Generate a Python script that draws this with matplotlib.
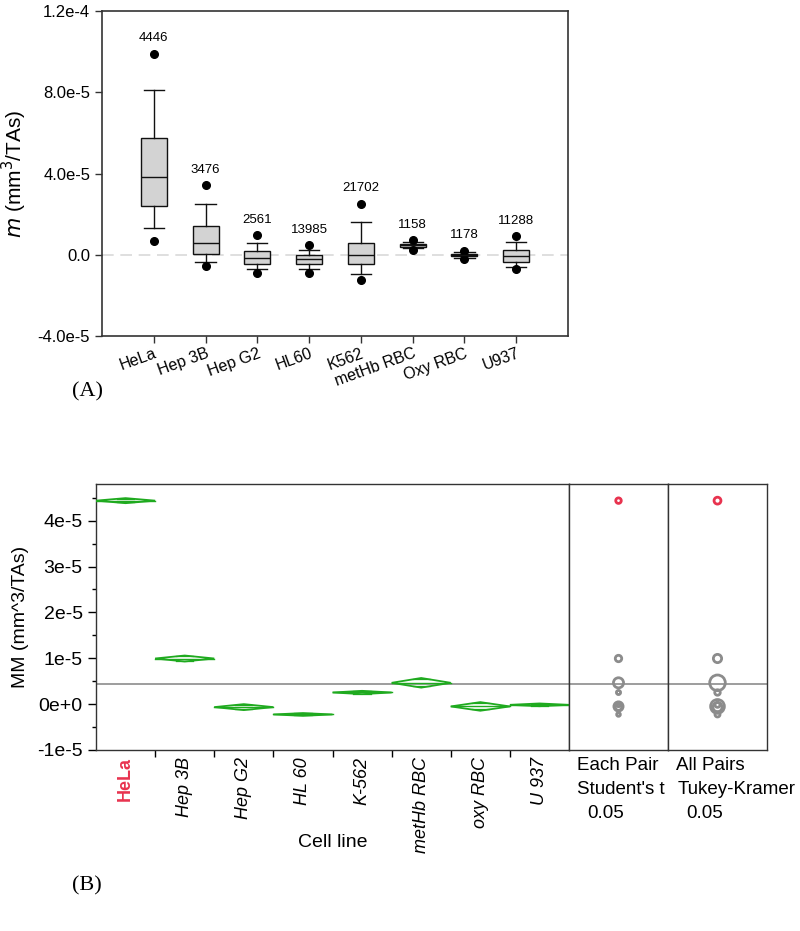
import matplotlib
matplotlib.use("Agg")
import matplotlib.pyplot as plt
from matplotlib.patches import Polygon, Circle
import numpy as np

plt.rcParams['font.family'] = ['Liberation Sans', 'DejaVu Sans']

# ---------------- Panel A data (box plots) ----------------
cats_a = ['HeLa', 'Hep 3B', 'Hep G2', 'HL60', 'K562', 'metHb RBC', 'Oxy RBC', 'U937']
n_a = [4446, 3476, 2561, 13985, 21702, 1158, 1178, 11288]
q1_a = [2.42e-5, 0.02e-5, -0.44e-5, -0.47e-5, -0.46e-5, 0.40e-5, -0.08e-5, -0.34e-5]
med_a = [3.81e-5, 0.60e-5, -0.14e-5, -0.22e-5, 0.0, 0.47e-5, -0.02e-5, -0.06e-5]
q3_a = [5.75e-5, 1.43e-5, 0.17e-5, 0.0e-5, 0.56e-5, 0.55e-5, 0.04e-5, 0.23e-5]
whislo_a = [1.30e-5, -0.36e-5, -0.68e-5, -0.70e-5, -0.95e-5, 0.32e-5, -0.14e-5, -0.59e-5]
whishi_a = [8.13e-5, 2.50e-5, 0.56e-5, 0.25e-5, 1.60e-5, 0.63e-5, 0.12e-5, 0.61e-5]
outlo_a = [0.68e-5, -0.57e-5, -0.88e-5, -0.88e-5, -1.26e-5, 0.25e-5, -0.22e-5, -0.72e-5]
outhi_a = [9.9e-5, 3.44e-5, 0.96e-5, 0.46e-5, 2.52e-5, 0.73e-5, 0.20e-5, 0.92e-5]
yticks_a = [-4.0e-5, 0.0, 4.0e-5, 8.0e-5, 1.2e-4]
yticklabels_a = ['-4.0e-5', '0.0', '4.0e-5', '8.0e-5', '1.2e-4']

# ---------------- Panel B data (means diamonds) ----------------
cats_b = ['HeLa', 'Hep 3B', 'Hep G2', 'HL 60', 'K-562', 'metHb RBC', 'oxy RBC', 'U 937']
mean_b = [4.437e-5, 0.995e-5, -0.065e-5, -0.225e-5, 0.254e-5, 0.465e-5, -0.05e-5, -0.015e-5]
ci_b = [0.055e-5, 0.065e-5, 0.065e-5, 0.03e-5, 0.036e-5, 0.105e-5, 0.094e-5, 0.03e-5]
student_r = [0.06e-5, 0.07e-5, 0.07e-5, 0.04e-5, 0.045e-5, 0.11e-5, 0.10e-5, 0.04e-5]
tukey_r = [0.075e-5, 0.09e-5, 0.10e-5, 0.055e-5, 0.06e-5, 0.17e-5, 0.15e-5, 0.055e-5]
grand_mean = 0.443e-5
yticks_b = [-1e-5, 0, 1e-5, 2e-5, 3e-5, 4e-5]
yticklabels_b = ['-1e-5', '0e+0', '1e-5', '2e-5', '3e-5', '4e-5']

RED = '#e8334f'
GREEN = '#1faa1f'
GRAY = '#8c8c8c'

fig = plt.figure(figsize=(8.0, 9.31), dpi=100)
W, H = 800, 931

def ax_px(l, t, r, b):
    return fig.add_axes([l / W, (H - b) / H, (r - l) / W, (b - t) / H])

# ======================= Panel A =======================
axA = ax_px(102, 11, 568, 336)
pos = np.arange(1, len(cats_a) + 1)
stats = []
for i in range(len(cats_a)):
    stats.append(dict(med=med_a[i], q1=q1_a[i], q3=q3_a[i], whislo=whislo_a[i],
                      whishi=whishi_a[i], fliers=[outlo_a[i], outhi_a[i]]))
axA.axhline(0, color='#d9d9d9', lw=1.2, dashes=(7, 4), zorder=0)
axA.bxp(stats, positions=pos, widths=0.5, patch_artist=True, showfliers=True,
        boxprops=dict(facecolor='#d3d3d3', edgecolor='#111111', lw=1.0),
        medianprops=dict(color='#111111', lw=1.0),
        whiskerprops=dict(color='#111111', lw=1.0),
        capprops=dict(color='#111111', lw=1.0),
        capwidths=0.39,
        flierprops=dict(marker='o', markerfacecolor='black', markeredgecolor='black',
                        markersize=5.5))
for i in range(len(cats_a)):
    axA.annotate(str(n_a[i]), (pos[i], outhi_a[i]), xytext=(0, 11),
                 textcoords='offset points', ha='center', va='center', fontsize=9.5)
axA.set_xlim(0, 9)
axA.set_ylim(-4.0e-5, 1.2e-4)
axA.set_yticks(yticks_a)
axA.set_yticklabels(yticklabels_a, fontsize=12)
axA.set_xticks(pos)
axA.set_xticklabels(cats_a, fontsize=11.5, rotation=20, ha='right', va='top',
                    rotation_mode='anchor')
axA.tick_params(direction='out', length=5, width=1.0, color='#333333')
axA.tick_params(axis='x', pad=2)
for s in axA.spines.values():
    s.set_color('#333333')
    s.set_linewidth(1.2)
axA.set_ylabel(r'$m$ (mm$^3$/TAs)', fontsize=15, labelpad=6)
fig.text(72 / W, 1 - 392 / H, '(A)', fontsize=16, family='Liberation Serif',
         ha='left', va='center')

# ======================= Panel B =======================
axB = ax_px(96, 484, 569, 750)
ylim_b = (-1e-5, 4.8e-5)
xc = np.arange(len(cats_b)) + 0.5
axB.axhline(grand_mean, color=GRAY, lw=1.2, zorder=1)
for i in range(len(cats_b)):
    c, m, h = xc[i], mean_b[i], ci_b[i]
    hw = 0.5
    poly = Polygon([[c - hw, m], [c, m + h], [c + hw, m], [c, m - h]], closed=True,
                   fill=False, edgecolor=GREEN, lw=1.3, zorder=3)
    axB.add_patch(poly)
    axB.plot([c - hw, c + hw], [m, m], color=GREEN, lw=1.0, zorder=3)
    ov = h / np.sqrt(2)
    frac = 1 - ov / h
    axB.plot([c - hw * frac, c + hw * frac], [m + ov, m + ov], color=GREEN, lw=0.9, zorder=3)
    axB.plot([c - hw * frac, c + hw * frac], [m - ov, m - ov], color=GREEN, lw=0.9, zorder=3)
axB.set_xlim(0, len(cats_b))
axB.set_ylim(*ylim_b)
axB.set_yticks(yticks_b)
axB.set_yticklabels(yticklabels_b, fontsize=14)
axB.set_yticks(np.arange(-1e-5, 4.8e-5, 0.5e-5), minor=True)
axB.tick_params(axis='y', which='major', direction='out', length=6, width=1)
axB.tick_params(axis='y', which='minor', direction='out', length=3, width=1)
axB.set_xticks(np.arange(1, len(cats_b)))
axB.set_xticklabels([])
axB.set_xticks(xc, minor=True)
axB.set_xticklabels(cats_b, minor=True, rotation=90, fontsize=13, style='italic',
                    ha='center', va='top')
axB.tick_params(axis='x', which='major', direction='out', length=5, width=1)
axB.tick_params(axis='x', which='minor', length=0, pad=5)
lab0 = axB.xaxis.get_minorticklabels()[0]
lab0.set_color(RED)
lab0.set_fontweight('bold')
lab0.set_fontstyle('normal')
for s in axB.spines.values():
    s.set_color('#333333')
    s.set_linewidth(1.0)
axB.set_ylabel('MM (mm^3/TAs)', fontsize=14, labelpad=6)
axB.set_xlabel('Cell line', fontsize=14)
axB.xaxis.set_label_coords(0.5, -0.346)
axB.xaxis.label.set_va('center')

# comparison circle panels
def circle_panel(l, r, radii, lines):
    ax = ax_px(l, 484, r, 750)
    ppu = 266 / (ylim_b[1] - ylim_b[0])
    half = (r - l) / 2 / ppu
    ax.set_xlim(-half, half)
    ax.set_ylim(*ylim_b)
    ax.axhline(grand_mean, color=GRAY, lw=1.2, zorder=1)
    order = list(range(1, len(mean_b))) + [0]
    for i in order:
        col = RED if i == 0 else GRAY
        ax.add_patch(Circle((0, mean_b[i]), radii[i], fill=False, edgecolor=col,
                            lw=2.0, zorder=3))
    ax.set_xticks([])
    ax.set_yticks([])
    for s in ax.spines.values():
        s.set_color('#333333')
        s.set_linewidth(1.0)
    for k, (txt, dx) in enumerate(lines):
        fig.text((l + 8 + dx) / W, 1 - (765 + 24.5 * k) / H, txt, fontsize=13.5,
                 ha='left', va='center')
    return ax

circle_panel(569, 668, student_r, [('Each Pair', 0), ("Student's t", 0), ('0.05', 10)])
circle_panel(668, 767, tukey_r, [('All Pairs', 0), ('Tukey-Kramer', 2), ('0.05', 10)])

fig.text(72 / W, 1 - 886 / H, '(B)', fontsize=16, family='Liberation Serif',
         ha='left', va='center')

fig.savefig('out.png', dpi=100)
